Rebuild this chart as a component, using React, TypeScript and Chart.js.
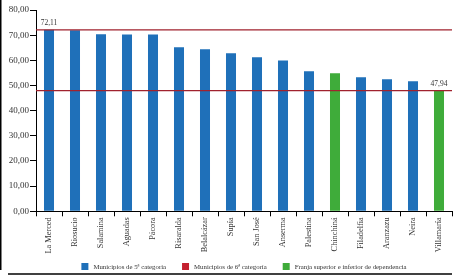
import React, { useEffect, useRef } from "react";
import { Chart, registerables } from "chart.js";

Chart.register(...registerables);

const categories = [
  "La Merced", "Riosucio", "Salamina", "Aguadas", "Pácora", "Risaralda",
  "Belalcázar", "Supía", "San José", "Anserma", "Palestina", "Chinchiná",
  "Filadelfia", "Aranzazu", "Neira", "Villamaría",
];
const values = [72.11, 72.0, 70.4, 70.3, 70.3, 65.2, 64.4, 62.8, 61.2, 59.9, 55.7, 54.9, 53.3, 52.5, 51.7, 47.94];
// "5" = Municipios de 5ª categoría, "F" = Franja superior e inferior de dependencia
const groups = ["5", "5", "5", "5", "5", "5", "5", "5", "5", "5", "5", "F", "5", "5", "5", "F"];
const thresholds = [72.11, 47.94];
const labeledIndices = [0, 15];
const legendLabels = [
  "Municipios de 5ª categoría",
  "Municipios de 6ª categoría",
  "Franja superior e inferior de dependencia",
];

const BLUE = "#1f70b9";
const RED = "#c4202f";
const GREEN = "#3fac3a";
const LINE_RED = "#a0222e";
const SERIF = "'Liberation Serif', 'DejaVu Serif', serif";
const legendColors = [BLUE, RED, GREEN];

const fmt = (v: number) => v.toFixed(2).replace(".", ",");

const overlayPlugin = {
  id: "overlay",
  afterDatasetsDraw(chart: any) {
    const { ctx, chartArea, scales } = chart;
    const y = scales.y;
    ctx.save();
    ctx.strokeStyle = LINE_RED;
    ctx.lineWidth = 1.2;
    thresholds.forEach((t) => {
      const py = y.getPixelForValue(t);
      ctx.beginPath();
      ctx.moveTo(chartArea.left, py);
      ctx.lineTo(chartArea.right, py);
      ctx.stroke();
    });
    const meta = chart.getDatasetMeta(0);
    ctx.fillStyle = "#333";
    ctx.font = `7.5px ${SERIF}`;
    ctx.textAlign = "center";
    ctx.textBaseline = "bottom";
    labeledIndices.forEach((i) => {
      const el = meta.data[i];
      ctx.fillText(fmt(values[i]), el.x, el.y - 3);
    });
    ctx.restore();
  },
  afterDraw(chart: any) {
    const { ctx, chartArea } = chart;
    ctx.save();
    ctx.strokeStyle = "#000";
    ctx.lineWidth = 1.5;
    ctx.beginPath();
    ctx.moveTo(0.75, 0);
    ctx.lineTo(0.75, 270);
    ctx.stroke();
    ctx.beginPath();
    ctx.moveTo(8, 274);
    ctx.lineTo(chartArea.right, 274);
    ctx.stroke();
    ctx.font = `6.8px ${SERIF}`;
    ctx.textBaseline = "middle";
    ctx.textAlign = "left";
    const box = 7, gapText = 5, gapItem = 16;
    const widths = legendLabels.map((t) => ctx.measureText(t).width);
    const total = widths.reduce((a, w) => a + box + gapText + w, 0) + gapItem * (legendLabels.length - 1);
    let x = (chartArea.left + chartArea.right) / 2 - total / 2;
    const cy = 266.5;
    legendLabels.forEach((t, i) => {
      ctx.fillStyle = legendColors[i];
      ctx.fillRect(x, cy - box / 2, box, box);
      ctx.fillStyle = "#333";
      ctx.fillText(t, x + box + gapText, cy + 0.5);
      x += box + gapText + widths[i] + gapItem;
    });
    ctx.restore();
  },
};

export default function App() {
  const ref = useRef<HTMLCanvasElement>(null);

  useEffect(() => {
    if (!ref.current) return;
    const chart = new Chart(ref.current, {
      type: "bar",
      data: {
        labels: categories,
        datasets: [
          {
            data: values,
            backgroundColor: groups.map((g) => (g === "F" ? GREEN : BLUE)),
            barPercentage: 0.385,
            categoryPercentage: 1,
          },
        ],
      },
      options: {
        responsive: false,
        animation: false,
        layout: { padding: { left: 0, right: 17, top: 10, bottom: 20.7 } },
        plugins: {
          tooltip: { enabled: false },
          legend: { display: false },
        },
        scales: {
          x: {
            grid: {
              offset: true,
              drawOnChartArea: false,
              drawTicks: true,
              tickLength: 5,
              color: "#000",
            },
            border: { display: true, color: "#000", width: 1 },
            ticks: {
              autoSkip: false,
              minRotation: 90,
              maxRotation: 90,
              padding: 1,
              color: "#333",
              font: { family: SERIF, size: 8.3 },
            },
            afterFit: (scale: any) => {
              scale.height = 44;
            },
          },
          y: {
            min: 0,
            max: 80,
            grid: {
              drawOnChartArea: false,
              drawTicks: true,
              tickLength: 6,
              color: "#000",
            },
            border: { display: true, color: "#000", width: 1 },
            ticks: {
              stepSize: 10,
              padding: 1,
              color: "#333",
              font: { family: SERIF, size: 9 },
              callback: (v: any) => fmt(Number(v)),
            },
            afterFit: (scale: any) => {
              scale.width = 36;
            },
          },
        },
      },
      plugins: [overlayPlugin],
    });
    return () => chart.destroy();
  }, []);

  return (
    <div style={{ position: "absolute", left: 0, top: 0, width: 469, height: 276, background: "#fff" }}>
      <canvas ref={ref} width={469} height={276} />
    </div>
  );
}
